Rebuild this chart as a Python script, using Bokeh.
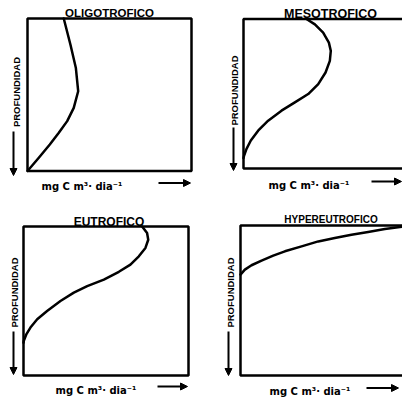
from bokeh.plotting import figure
from bokeh.layouts import column, row
from bokeh.models import Range1d, Label, Arrow, NormalHead, BoxAnnotation
from bokeh.embed import file_html
from bokeh.resources import INLINE
import math

# ---- data (relative productivity vs. relative depth; depth 0 = surface) ----
titles = ["OLIGOTROFICO", "MESOTROFICO", "EUTROFICO", "HYPEREUTROFICO"]
y_label = "PROFUNDIDAD"
x_label = "mg C m\u00b3\u00b7 dia\u207b\u00b9"

oligo_prod = [0.221, 0.262, 0.295, 0.309, 0.282, 0.242, 0.191, 0.136, 0.069, 0.0]
oligo_depth = [0.0, 0.172, 0.325, 0.477, 0.586, 0.673, 0.749, 0.826, 0.913, 1.0]

meso_prod = [0.396, 0.449, 0.501, 0.537, 0.549, 0.543, 0.516, 0.470, 0.407, 0.323,
             0.239, 0.155, 0.092, 0.046, 0.019, 0.004, 0.0]
meso_depth = [0.0, 0.036, 0.091, 0.158, 0.213, 0.280, 0.358, 0.436, 0.502, 0.558,
              0.613, 0.680, 0.747, 0.813, 0.869, 0.913, 0.93]

eutro_prod = [0.719, 0.749, 0.756, 0.739, 0.699, 0.648, 0.578, 0.487, 0.386, 0.305,
              0.224, 0.143, 0.083, 0.042, 0.018, 0.002, 0.0]
eutro_depth = [0.0, 0.044, 0.089, 0.144, 0.200, 0.256, 0.304, 0.356, 0.400, 0.444,
               0.500, 0.567, 0.622, 0.678, 0.722, 0.767, 0.78]

hyper_prod = [0.0, 0.027, 0.068, 0.130, 0.202, 0.274, 0.377, 0.480, 0.582, 0.685,
              0.788, 0.891, 1.0]
hyper_depth = [0.327, 0.294, 0.265, 0.234, 0.201, 0.172, 0.139, 0.106, 0.084, 0.062,
               0.044, 0.024, 0.008]

FONT = "Liberation Sans"
XFONT = "DejaVu Sans"

# panel layout in page pixels: canvas origin/size, box (fl, ft, fw, fh), decorations
panels = [
    dict(ox=0, oy=0, w=200, h=200, fl=27, ft=18, fw=164, fh=152.5, box_right=1.0,
         tx=109, ty=12.5, tsize=11.5, ylx=15.5, yly=91.5, ax=13, ay0=131, ay1=175,
         xlx=41, xly=185.5, hx0=158, hx1=190, hy=182.5,
         px=oligo_prod, py=oligo_depth),
    dict(ox=200, oy=0, w=202, h=200, fl=243, ft=18.5, fw=159, fh=149.5, box_right=1.3,
         tx=330, ty=13.5, tsize=12.5, ylx=234, yly=90, ax=233, ay0=127, ay1=170,
         xlx=268, xly=184.5, hx0=371, hx1=401, hy=181,
         px=meso_prod, py=meso_depth),
    dict(ox=0, oy=200, w=200, h=197, fl=23, ft=226, fw=165, fh=149, box_right=1.0,
         tx=108.5, ty=221, tsize=12, ylx=14, yly=292, ax=13, ay0=331, ay1=374,
         xlx=55, xly=389.5, hx0=157, hx1=187, hy=386,
         px=eutro_prod, py=eutro_depth),
    dict(ox=200, oy=200, w=202, h=197, fl=240, ft=225, fw=162, fh=150, box_right=1.3,
         tx=330.5, ty=218.5, tsize=10, ylx=230, yly=292, ax=228, ay0=331, ay1=375,
         xlx=269, xly=390.5, hx0=366, hx1=398, hy=387.5,
         px=hyper_prod, py=hyper_depth),
]

figs = []
for title, d in zip(titles, panels):
    fl, ft, fw, fh = d["fl"], d["ft"], d["fw"], d["fh"]

    def dx(sx):
        return (sx - fl) / fw

    def dy(sy):
        return (sy - ft) / fh

    p = figure(width=d["w"], height=d["h"], title=None, toolbar_location=None,
               output_backend="svg",
               x_range=Range1d(dx(d["ox"]), dx(d["ox"] + d["w"])),
               y_range=Range1d(dy(d["oy"] + d["h"]), dy(d["oy"])),
               x_axis_location=None, y_axis_location=None,
               min_border=0, min_border_left=0, min_border_right=0,
               min_border_top=0, min_border_bottom=0,
               background_fill_color="white", border_fill_color="white")
    p.grid.visible = False
    p.outline_line_color = None

    p.add_layout(BoxAnnotation(left=0, right=d["box_right"], top=0, bottom=1,
                               fill_alpha=0, fill_color=None,
                               line_color="black", line_alpha=1.0, line_width=2.5))

    p.line(d["px"], d["py"], line_color="black", line_width=2.5,
           line_join="round", line_cap="round")

    p.add_layout(Label(x=dx(d["tx"]), y=dy(d["ty"]), text=title,
                       text_align="center", text_baseline="alphabetic",
                       text_font=FONT, text_font_style="bold",
                       text_font_size=f"{d['tsize']}px", text_color="black"))
    p.add_layout(Label(x=dx(d["ylx"]), y=dy(d["yly"]), text=y_label,
                       angle=math.pi / 2, text_align="center", text_baseline="middle",
                       text_font=FONT, text_font_style="bold",
                       text_font_size="9.5px", text_color="black"))
    p.add_layout(Label(x=dx(d["xlx"]), y=dy(d["xly"]), text=x_label,
                       text_align="left", text_baseline="alphabetic",
                       text_font=XFONT, text_font_style="bold",
                       text_font_size="10px", text_color="black"))
    p.add_layout(Arrow(x_start=dx(d["ax"]), y_start=dy(d["ay0"]),
                       x_end=dx(d["ax"]), y_end=dy(d["ay1"]),
                       line_color="black", line_width=2,
                       end=NormalHead(size=7, fill_color="black", line_color="black")))
    p.add_layout(Arrow(x_start=dx(d["hx0"]), y_start=dy(d["hy"]),
                       x_end=dx(d["hx1"]), y_end=dy(d["hy"]),
                       line_color="black", line_width=2,
                       end=NormalHead(size=7, fill_color="black", line_color="black")))
    figs.append(p)

layout = column(row(figs[0], figs[1]), row(figs[2], figs[3]))
open("out.html", "w").write(file_html(layout, INLINE))
